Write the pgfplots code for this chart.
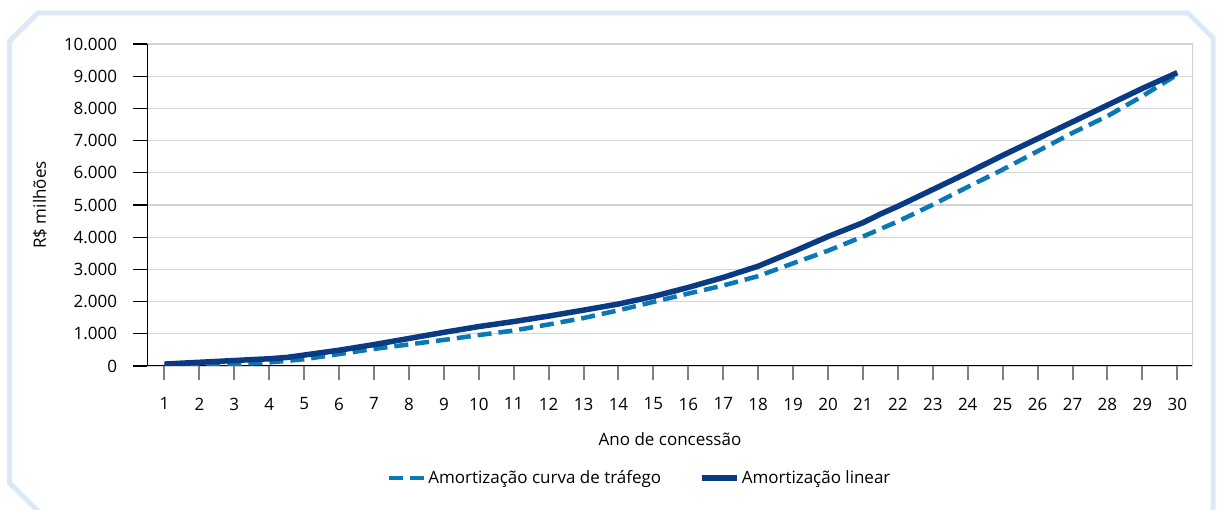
\documentclass[border=0pt]{standalone}
\usepackage{fontspec}
\setmainfont{Open Sans}
\usepackage{pgfplots}
\pgfplotsset{compat=1.18}
\definecolor{navyline}{HTML}{0A3A82}
\definecolor{trafblue}{HTML}{0A78B4}
\definecolor{framebl}{HTML}{DCE8F5}
\definecolor{gridg}{HTML}{D4D4D4}
\definecolor{tickg}{HTML}{808080}
\begin{document}
\fontsize{17}{20}\selectfont
\begin{tikzpicture}
\begin{scope}
\clip (0pt,0pt) rectangle (1217pt,510pt);
\draw[framebl, line width=5pt, line join=miter] (45pt,-8pt) -- (9.5pt,27pt) -- (9.5pt,469pt) -- (38pt,497pt) -- (1188pt,497pt) -- (1213pt,472pt) -- (1213pt,-10pt);
\end{scope}
\begin{axis}[
  at={(147pt,144pt)}, anchor=south west,
  scale only axis, width=1046pt, height=322pt,
  xmin=0.5, xmax=30.45, ymin=0, ymax=10000,
  axis line style={draw=none},
  xtick={1,...,30},
  ytick={0,1000,...,10000},
  scaled y ticks=false,
  yticklabels={0,1.000,2.000,3.000,4.000,5.000,6.000,7.000,8.000,9.000,10.000},
  xtick pos=lower, ytick pos=left,
  tick align=outside,
  major tick length=14pt,
  xtick style={draw=tickg, line width=2pt},
  ytick style={draw=black, line width=1.3pt},
  xticklabel style={yshift=-12pt},
  yticklabel style={xshift=-10pt},
  ymajorgrids,
  major grid style={draw=gridg, line width=1.3pt},
  /pgf/number format/assume math mode=true,
  xlabel={Ano de concessão},
  ylabel={R\$ milhões},
  xlabel style={at={(axis description cs:0.5,-0.2267)}, anchor=center},
  ylabel style={at={(axis description cs:-0.1023,0.5)}, anchor=center},
  legend columns=2,
  legend style={at={(0.471,-0.348)}, anchor=center, draw=none, fill=none,
    /tikz/every even column/.append style={column sep=36pt}},
  legend cell align=left,
  legend image code/.code={\draw[#1] (0pt,0pt) -- (35pt,0pt);},
]
\draw[black, line width=1.3pt] (rel axis cs:0,1) -- (rel axis cs:0,0) -- (rel axis cs:1,0);
\draw[gridg, line width=1.3pt] (rel axis cs:1,0) -- (rel axis cs:1,1);
\addplot[trafblue, line width=4.5pt, dash pattern=on 14pt off 7pt] coordinates {
(1,20) (2,30) (3,55) (4,110) (5,210) (6,370) (7,530) (8,670) (9,810) (10,960)
(11,1100) (12,1290) (13,1490) (14,1730) (15,1990) (16,2250) (17,2500) (18,2790) (19,3190) (20,3580)
(21,4020) (22,4490) (23,5010) (24,5560) (25,6100) (26,6670) (27,7240) (28,7760) (29,8380) (30,9050)
};
\addlegendentry{Amortização curva de tráfego}
\addplot[navyline, line width=5.5pt, line join=round] coordinates {
(1,60) (2,115) (3,170) (4,225) (4.5,265) (5,340) (6,490) (7,665) (8,855) (9,1045) (10,1225)
(11,1380) (12,1550) (13,1735) (14,1925) (15,2160) (16,2440) (17,2750) (18,3100) (19,3550) (20,4020)
(21,4450) (21.5,4720) (22,4960) (23,5480) (24,6000) (25,6540) (26,7060) (27,7580) (28,8100) (29,8620) (30,9110)
};
\addlegendentry{Amortização linear}
\end{axis}
\pgfresetboundingbox
\path[use as bounding box] (0pt,0pt) rectangle (1217pt,510pt);
\end{tikzpicture}
\end{document}
